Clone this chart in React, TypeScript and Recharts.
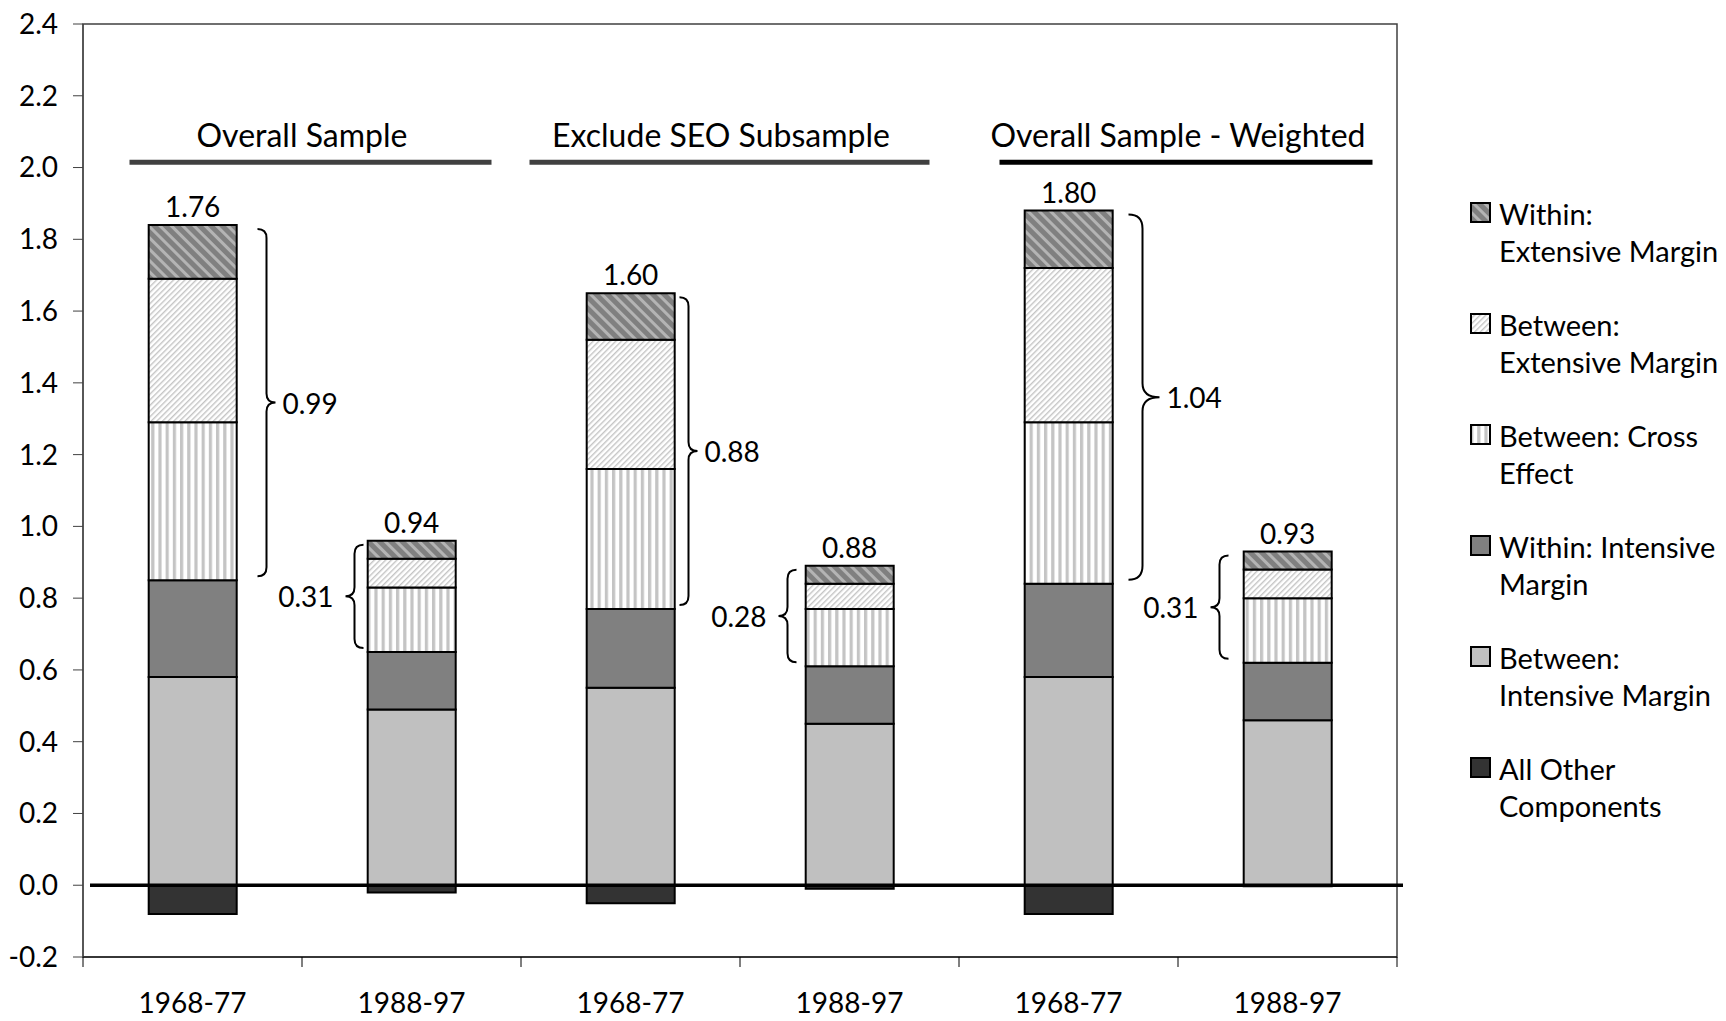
import React from 'react';
import {
  BarChart,
  Bar,
  XAxis,
  YAxis,
  Legend,
  LabelList,
  ReferenceLine,
  ReferenceArea,
} from 'recharts';

// bar categories (two periods per sample)
const barKeys = ['os68', 'os88', 'ex68', 'ex88', 'wt68', 'wt88'];
const periods = ['1968-77', '1988-97', '1968-77', '1988-97', '1968-77', '1988-97'];
const groupTitles = ['Overall Sample', 'Exclude SEO Subsample', 'Overall Sample - Weighted'];

// components, bottom to top
const betweenIntensive = [0.58, 0.49, 0.55, 0.45, 0.58, 0.46];
const withinIntensive = [0.27, 0.16, 0.22, 0.16, 0.26, 0.16];
const betweenCross = [0.44, 0.18, 0.39, 0.16, 0.45, 0.18];
const betweenExtensive = [0.4, 0.08, 0.36, 0.07, 0.43, 0.08];
const withinExtensive = [0.15, 0.05, 0.13, 0.05, 0.16, 0.05];
const allOther = [-0.08, -0.02, -0.05, -0.01, -0.08, -0.003];

const yTicks = [-0.2, 0, 0.2, 0.4, 0.6, 0.8, 1.0, 1.2, 1.4, 1.6, 1.8, 2.0, 2.2, 2.4];

const data = barKeys.map((key, i) => ({
  key,
  period: periods[i],
  allOther: allOther[i],
  betweenIntensive: betweenIntensive[i],
  withinIntensive: withinIntensive[i],
  betweenCross: betweenCross[i],
  betweenExtensive: betweenExtensive[i],
  withinExtensive: withinExtensive[i],
  total:
    allOther[i] +
    betweenIntensive[i] +
    withinIntensive[i] +
    betweenCross[i] +
    betweenExtensive[i] +
    withinExtensive[i],
}));

const series = [
  { key: 'betweenIntensive', lines: ['Between:', 'Intensive Margin'], fill: '#c0c0c0' },
  { key: 'withinIntensive', lines: ['Within: Intensive', 'Margin'], fill: '#808080' },
  { key: 'betweenCross', lines: ['Between: Cross', 'Effect'], fill: 'url(#patCross)' },
  { key: 'betweenExtensive', lines: ['Between:', 'Extensive Margin'], fill: 'url(#patBetweenExt)' },
  { key: 'withinExtensive', lines: ['Within:', 'Extensive Margin'], fill: 'url(#patWithinExt)' },
  { key: 'allOther', lines: ['All Other', 'Components'], fill: '#333333' },
];
const legendOrder = ['withinExtensive', 'betweenExtensive', 'betweenCross', 'withinIntensive', 'betweenIntensive', 'allOther'];

// layout / styling
const W = 1726;
const H = 1021;
const PLOT_LEFT = 83;
const PLOT_RIGHT = 1397;
const BAND = (PLOT_RIGHT - PLOT_LEFT) / barKeys.length;
const FONT = 'Lato, "Open Sans", sans-serif';
const FS = 28;
const TITLE_FS = 32;
const LEGEND_FS = 29;
const TITLE_LEVEL = 2.015;
const titleStyle = [
  { left: 63, right: 80, dx: 0, color: '#404040' },
  { left: 101, right: 80, dx: -19, color: '#404040' },
  { left: 69, right: 85, dx: 0, color: '#000000' },
];
const braceDx = [74, -57, 58, -62, 74, -68];
const braceDepth = [9, 9, 9, 9, 17, 9];

const XTick = (props: any) => {
  const { x, y, index } = props;
  return (
    <g>
      <line x1={x - BAND / 2} x2={x - BAND / 2} y1={y} y2={y + 10} stroke="#000" strokeWidth={1} />
      {index === barKeys.length - 1 && (
        <line x1={x + BAND / 2} x2={x + BAND / 2} y1={y} y2={y + 10} stroke="#000" strokeWidth={1} />
      )}
      <text
        x={x}
        y={y + 45}
        textAnchor="middle"
        dominantBaseline="central"
        fontSize={FS}
        fontFamily={FONT}
        fill="#000"
      >
        {periods[index]}
      </text>
    </g>
  );
};

const renderLegend = () => (
  <div style={{ paddingLeft: 73, fontFamily: FONT, fontSize: LEGEND_FS, color: '#000' }}>
    {legendOrder.map((k) => {
      const s = series.find((d) => d.key === k)!;
      return (
        <div key={k} style={{ display: 'flex', height: 74, marginBottom: 37, lineHeight: '37px' }}>
          <svg width={21} height={21} style={{ marginTop: 7, flex: 'none' }}>
            <rect x={1} y={1} width={19} height={19} fill={s.fill} stroke="#000" strokeWidth={2} />
          </svg>
          <div style={{ marginLeft: 8, whiteSpace: 'nowrap' }}>
            {s.lines.map((l) => (
              <div key={l}>{l}</div>
            ))}
          </div>
        </div>
      );
    })}
  </div>
);

function titleShape(g: number) {
  return (p: any) => {
    const st = titleStyle[g];
    const xa = Math.min(p.x1, p.x2);
    const xb = Math.max(p.x1, p.x2);
    return (
      <g>
        <line x1={xa - st.left} x2={xb + st.right} y1={p.y1} y2={p.y1} stroke={st.color} strokeWidth={5} />
        <text
          x={(xa + xb) / 2 + st.dx}
          y={p.y1 - 15}
          textAnchor="middle"
          fontSize={TITLE_FS}
          fontFamily={FONT}
          fill="#000"
        >
          {groupTitles[g]}
        </text>
      </g>
    );
  };
}

function braceShape(i: number, label: string) {
  return (p: any) => {
    const s = braceDx[i] > 0 ? 1 : -1;
    const sx = p.x1 + braceDx[i];
    const y1 = Math.min(p.y1, p.y2) + 4;
    const y2 = Math.max(p.y1, p.y2) - 4;
    const ym = (y1 + y2) / 2;
    const d = braceDepth[i];
    const r = Math.max(9, d - 3);
    const path = [
      `M ${sx - s * r} ${y1}`,
      `Q ${sx} ${y1} ${sx} ${y1 + r}`,
      `L ${sx} ${ym - r}`,
      `Q ${sx} ${ym} ${sx + s * d} ${ym}`,
      `Q ${sx} ${ym} ${sx} ${ym + r}`,
      `L ${sx} ${y2 - r}`,
      `Q ${sx} ${y2} ${sx - s * r} ${y2}`,
    ].join(' ');
    return (
      <g>
        <path d={path} fill="none" stroke="#000" strokeWidth={2} />
        <text
          x={sx + s * (d + (s > 0 ? 7 : 12))}
          y={ym}
          textAnchor={s > 0 ? 'start' : 'end'}
          dominantBaseline="central"
          fontSize={FS}
          fontFamily={FONT}
          fill="#000"
        >
          {label}
        </text>
      </g>
    );
  };
}

export default function App() {
  return (
    <div style={{ position: 'absolute', left: 0, top: 0, width: W, height: H, background: '#fff', fontFamily: FONT }}>
      <BarChart
        width={W}
        height={H}
        data={data}
        stackOffset="sign"
        barCategoryGap="30%"
        margin={{ top: 24, right: W - PLOT_RIGHT, bottom: 4, left: 0 }}
      >
        <defs>
          <pattern id="patWithinExt" patternUnits="userSpaceOnUse" width={8} height={8} patternTransform="rotate(-45)">
            <rect width={8} height={8} fill="#808080" />
            <rect width={3} height={8} fill="#b4b4b4" />
          </pattern>
          <pattern id="patBetweenExt" patternUnits="userSpaceOnUse" width={4} height={4} patternTransform="rotate(45)">
            <rect width={4} height={4} fill="#ffffff" />
            <rect width={1.4} height={4} fill="#c4c4c4" />
          </pattern>
          <pattern id="patCross" patternUnits="userSpaceOnUse" width={7.2} height={8}>
            <rect width={7.2} height={8} fill="#ffffff" />
            <rect width={3.2} height={8} fill="#c4c4c4" />
          </pattern>
        </defs>

        <ReferenceArea y1={-0.2} y2={2.4} fill="none" fillOpacity={0} stroke="#404040" strokeWidth={1.5} />

        <XAxis
          dataKey="key"
          height={60}
          interval={0}
          tickSize={0}
          tickMargin={0}
          tickLine={false}
          axisLine={{ stroke: '#000', strokeWidth: 1 }}
          tick={<XTick />}
        />
        <YAxis
          width={PLOT_LEFT}
          domain={[-0.2, 2.4]}
          ticks={yTicks}
          interval={0}
          tickSize={10}
          tickMargin={15}
          tickFormatter={(v: number) => v.toFixed(1)}
          axisLine={{ stroke: '#404040', strokeWidth: 1 }}
          tickLine={{ stroke: '#404040' }}
          tick={{ fill: '#000', fontSize: FS, fontFamily: FONT }}
        />

        <Legend
          layout="vertical"
          align="center"
          verticalAlign="middle"
          content={renderLegend}
          wrapperStyle={{ left: PLOT_RIGHT, top: 195, width: W - PLOT_RIGHT, right: 'auto', bottom: 'auto' }}
        />

        <Bar dataKey="allOther" stackId="a" fill="#333333" stroke="#000" strokeWidth={2} isAnimationActive={false} />
        <Bar dataKey="betweenIntensive" stackId="a" fill="#c0c0c0" stroke="#000" strokeWidth={2} isAnimationActive={false} />
        <Bar dataKey="withinIntensive" stackId="a" fill="#808080" stroke="#000" strokeWidth={2} isAnimationActive={false} />
        <Bar dataKey="betweenCross" stackId="a" fill="url(#patCross)" stroke="#000" strokeWidth={2} isAnimationActive={false} />
        <Bar dataKey="betweenExtensive" stackId="a" fill="url(#patBetweenExt)" stroke="#000" strokeWidth={2} isAnimationActive={false} />
        <Bar dataKey="withinExtensive" stackId="a" fill="url(#patWithinExt)" stroke="#000" strokeWidth={2} isAnimationActive={false}>
          <LabelList
            dataKey="total"
            position="top"
            offset={8}
            formatter={(v: any) => Number(v).toFixed(2)}
            style={{ fontSize: FS, fontFamily: FONT, fill: '#000' }}
          />
        </Bar>

        <ReferenceLine
          y={0}
          shape={(p: any) => (
            <line x1={p.x1 + 7} x2={p.x2 + 6} y1={p.y1} y2={p.y2} stroke="#000" strokeWidth={3.5} />
          )}
        />

        {groupTitles.map((t, g) => (
          <ReferenceLine
            key={t}
            segment={[
              { x: barKeys[2 * g], y: TITLE_LEVEL },
              { x: barKeys[2 * g + 1], y: TITLE_LEVEL },
            ]}
            shape={titleShape(g)}
          />
        ))}

        {data.map((d, i) => {
          const lower = d.betweenIntensive + d.withinIntensive;
          const span = d.betweenCross + d.betweenExtensive + d.withinExtensive;
          return (
            <ReferenceLine
              key={`brace-${d.key}`}
              segment={[
                { x: d.key, y: lower },
                { x: d.key, y: lower + span },
              ]}
              shape={braceShape(i, span.toFixed(2))}
            />
          );
        })}
      </BarChart>
    </div>
  );
}
